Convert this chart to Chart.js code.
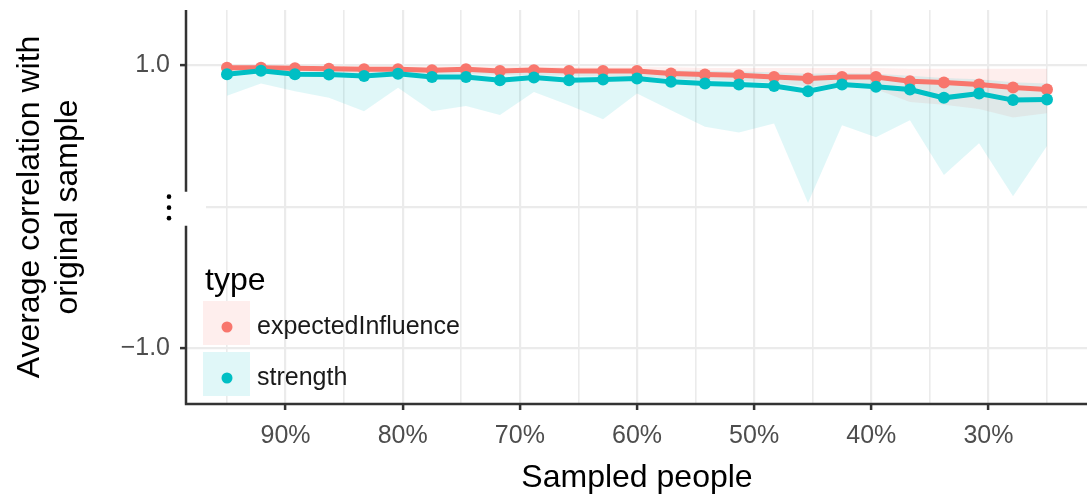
<!DOCTYPE html>
<html>
<head>
<meta charset="utf-8">
<script src="https://cdn.jsdelivr.net/npm/chart.js@4.4.1/dist/chart.umd.min.js"></script>
<style>
  html, body { margin: 0; padding: 0; background: #fff; overflow: hidden; }
  canvas { display: block; }
</style>
</head>
<body>
<canvas id="chart" width="1094" height="498"></canvas>
<script>
// sampled share of people (x axis, reversed)
const sampledPct = [95, 92.1, 89.2, 86.3, 83.3, 80.4, 77.5, 74.6, 71.7, 68.8, 65.8, 62.9,
  60, 57.1, 54.2, 51.3, 48.3, 45.4, 42.5, 39.6, 36.7, 33.8, 30.8, 27.9, 25];

// expectedInfluence: mean correlation and band
const eiMean = [0.981, 0.982, 0.979, 0.975, 0.972, 0.972, 0.965, 0.972, 0.958, 0.965, 0.958, 0.958,
  0.958, 0.941, 0.934, 0.929, 0.917, 0.906, 0.917, 0.917, 0.887, 0.878, 0.864, 0.842, 0.828];
const eiUpper = [0.995, 0.995, 0.995, 0.995, 0.99, 0.99, 0.99, 0.99, 0.99, 0.99, 0.985, 0.985,
  0.985, 0.985, 0.98, 0.98, 0.98, 0.98, 0.98, 0.98, 0.975, 0.975, 0.975, 0.975, 0.975];
const eiLower = [0.955, 0.96, 0.955, 0.95, 0.945, 0.945, 0.94, 0.94, 0.93, 0.93, 0.925, 0.92,
  0.92, 0.905, 0.895, 0.89, 0.875, 0.85, 0.865, 0.83, 0.74, 0.72, 0.69, 0.63, 0.66];

// strength: mean correlation and band
const stMean = [0.936, 0.960, 0.936, 0.934, 0.924, 0.939, 0.917, 0.917, 0.894, 0.913, 0.894, 0.899,
  0.906, 0.882, 0.871, 0.864, 0.852, 0.816, 0.864, 0.847, 0.828, 0.769, 0.800, 0.753, 0.758];
const stUpper = [0.985, 0.99, 0.985, 0.985, 0.98, 0.985, 0.98, 0.98, 0.975, 0.975, 0.97, 0.97,
  0.97, 0.965, 0.96, 0.955, 0.95, 0.94, 0.945, 0.94, 0.925, 0.91, 0.9, 0.88, 0.87];
const stLower = [0.783, 0.871, 0.816, 0.769, 0.675, 0.840, 0.675, 0.712, 0.647, 0.811, 0.717, 0.618,
  0.800, 0.682, 0.564, 0.524, 0.588, 0.025, 0.576, 0.491, 0.611, 0.223, 0.449, 0.074, 0.428];

const seriesNames = ['expectedInfluence', 'strength'];
const xGridTicks = [95, 90, 85, 80, 75, 70, 65, 60, 55, 50, 45, 40, 35, 30, 25];
const xMajorTicks = [90, 80, 70, 60, 50, 40, 30];
const xMajorLabels = ['90%', '80%', '70%', '60%', '50%', '40%', '30%'];
const yTicks = [-1, 0, 1];
const yTickLabels = ['\u22121.0', '', '1.0'];

const RED = '#F8766D';
const TEAL = '#00BFC4';
const RED_FILL = 'rgba(248,118,109,0.12)';
const TEAL_FILL = 'rgba(0,191,196,0.12)';
const FONT = "'Liberation Sans', Arial, sans-serif";
const AXIS = '#333333';

function pts(ys) {
  return sampledPct.map((x, i) => ({ x: x, y: ys[i] }));
}

function band(data, order, fill, color) {
  return {
    data: pts(data), order: order, fill: fill, backgroundColor: color,
    borderColor: 'transparent', borderWidth: 0, pointRadius: 0, tension: 0
  };
}

// chart.js reserves half a label above/below the axis; the reference does not
function noScalePadding(s) {
  s.paddingTop = 0;
  s.paddingBottom = 0;
  s.paddingLeft = 0;
  s.paddingRight = 0;
}

// axis lines, the break on the y axis and the legend
const overlay = {
  id: 'overlay',
  afterDraw(chart) {
    const ctx = chart.ctx;
    const area = chart.chartArea;
    const y0 = chart.scales.y.getPixelForValue(0);
    ctx.save();

    ctx.fillStyle = '#fff';
    ctx.fillRect(148, y0 - 15, area.left + 20 - 148, 34);

    ctx.strokeStyle = AXIS;
    ctx.lineWidth = 2.5;
    ctx.beginPath();
    ctx.moveTo(area.left, area.top);
    ctx.lineTo(area.left, y0 - 15);
    ctx.moveTo(area.left, y0 + 19);
    ctx.lineTo(area.left, area.bottom);
    ctx.moveTo(area.left - 1.2, area.bottom);
    ctx.lineTo(chart.width, area.bottom);
    ctx.stroke();

    ctx.fillStyle = '#000';
    [-10, 1, 11.5].forEach(d => {
      ctx.beginPath();
      ctx.arc(169, y0 + d, 2.3, 0, Math.PI * 2);
      ctx.fill();
    });

    // legend
    ctx.font = '32px ' + FONT;
    ctx.textBaseline = 'alphabetic';
    ctx.textAlign = 'left';
    ctx.fillStyle = '#000';
    ctx.fillText('type', 205, 290);

    const keys = [[RED, RED_FILL, 301], [TEAL, TEAL_FILL, 352]];
    keys.forEach((k, i) => {
      ctx.fillStyle = '#fff';
      ctx.fillRect(203, k[2], 47, 44);
      ctx.fillStyle = k[1];
      ctx.fillRect(203, k[2], 47, 44);
      ctx.fillStyle = k[0];
      ctx.beginPath();
      ctx.arc(227, k[2] + 26, 5.5, 0, Math.PI * 2);
      ctx.fill();
      ctx.font = '25px ' + FONT;
      ctx.textBaseline = 'middle';
      ctx.fillStyle = '#1A1A1A';
      ctx.fillText(seriesNames[i], 257, k[2] + 26);
    });
    ctx.restore();
  }
};

new Chart(document.getElementById('chart'), {
  type: 'line',
  data: {
    datasets: [
      { label: seriesNames[1], data: pts(stMean), showLine: false, order: 0,
        pointRadius: 6, pointBackgroundColor: TEAL, pointBorderWidth: 0 },
      { label: seriesNames[0], data: pts(eiMean), showLine: false, order: 1,
        pointRadius: 6, pointBackgroundColor: RED, pointBorderWidth: 0 },
      { data: pts(stMean), order: 2, borderColor: TEAL, borderWidth: 5, pointRadius: 0, tension: 0, fill: false },
      { data: pts(eiMean), order: 3, borderColor: RED, borderWidth: 5, pointRadius: 0, tension: 0, fill: false },
      band(stUpper, 4, '+1', TEAL_FILL),
      band(stLower, 5, false, 'transparent'),
      band(eiUpper, 6, '+1', RED_FILL),
      band(eiLower, 7, false, 'transparent')
    ]
  },
  options: {
    responsive: false,
    animation: false,
    devicePixelRatio: 1,
    layout: { padding: { top: 10, right: 1, left: 0, bottom: 0 } },
    plugins: { legend: { display: false }, tooltip: { enabled: false } },
    scales: {
      x: {
        type: 'linear',
        reverse: true,
        min: 21.5,
        max: 98.5,
        afterBuildTicks: s => { s.ticks = xGridTicks.map(v => ({ value: v })); },
        afterFit: s => { s.height = 94; noScalePadding(s); },
        border: { display: false },
        grid: {
          color: '#EBEBEB',
          lineWidth: c => (xMajorTicks.includes(c.tick.value) ? 2.2 : 1.6),
          tickLength: 6,
          tickWidth: 2.5,
          tickColor: c => (xMajorTicks.includes(c.tick.value) ? AXIS : 'transparent')
        },
        ticks: {
          autoSkip: false,
          maxRotation: 0,
          padding: 11,
          color: '#4D4D4D',
          font: { family: FONT, size: 25 },
          callback: v => {
            const i = xMajorTicks.indexOf(v);
            return i >= 0 ? xMajorLabels[i] : '';
          }
        },
        title: {
          display: true,
          text: 'Sampled people',
          color: '#000',
          font: { family: FONT, size: 32 },
          padding: { top: 0, bottom: 1 }
        }
      },
      y: {
        type: 'linear',
        min: -1.395,
        max: 1.39,
        afterBuildTicks: s => { s.ticks = yTicks.map(v => ({ value: v })); },
        afterFit: s => { s.width = 186; noScalePadding(s); },
        border: { display: false },
        grid: {
          color: '#EBEBEB',
          lineWidth: 2.2,
          tickLength: 6,
          tickWidth: 2.5,
          tickColor: c => (c.tick.value === 0 ? 'transparent' : AXIS)
        },
        ticks: {
          padding: 10,
          color: '#4D4D4D',
          font: { family: FONT, size: 25 },
          callback: v => yTickLabels[yTicks.indexOf(v)]
        },
        title: {
          display: true,
          text: ['Average correlation with', 'original sample'],
          color: '#000',
          font: { family: FONT, size: 32, lineHeight: 1.1875 },
          padding: { top: 11, bottom: 0 }
        }
      }
    }
  },
  plugins: [overlay]
});
</script>
</body>
</html>
